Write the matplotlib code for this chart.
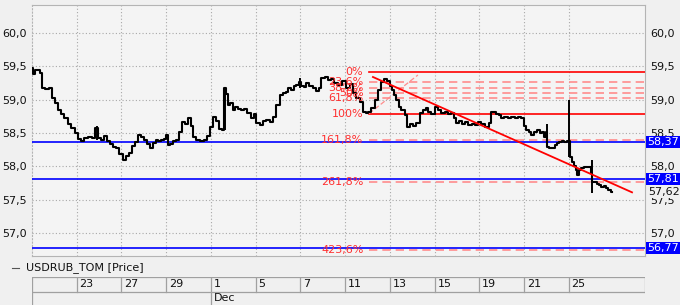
import matplotlib
matplotlib.use("Agg")
import matplotlib.pyplot as plt
import matplotlib.ticker as mticker
import matplotlib.transforms as mtransforms
from matplotlib.lines import Line2D

# --- data: trading-day position (0 = start of Nov 21) and price ---
days = [0.00, 0.08, 0.17, 0.30, 0.39, 0.48, 0.66, 0.88, 0.93, 1.10, 1.24, 1.37, 1.51, 1.69, 1.82,
        2.00, 2.13, 2.27, 2.40, 2.58, 2.76, 2.89, 2.98, 3.16, 3.29, 3.43, 3.56, 3.70, 3.83, 3.97,
        4.15, 4.28, 4.41, 4.55, 4.68, 4.82, 4.95, 5.08, 5.22, 5.35, 5.49, 5.58, 5.71, 5.85, 5.94,
        6.02, 6.11, 6.25, 6.38, 6.52, 6.65, 6.74, 6.92, 7.05, 7.14, 7.28, 7.41, 7.59, 7.77, 7.90,
        8.04, 8.17, 8.30, 8.44, 8.57, 8.62, 8.71, 8.80, 8.93, 9.02, 9.15, 9.29, 9.42, 9.56, 9.69,
        9.87, 9.96, 10.09, 10.27, 10.41, 10.54, 10.72, 10.85, 10.99, 11.16, 11.30, 11.39, 11.52,
        11.66, 11.75, 11.88, 11.97, 12.11, 12.20, 12.33, 12.47, 12.64, 12.78, 12.87, 13.00, 13.18,
        13.31, 13.45, 13.58, 13.76, 13.94, 14.12, 14.30, 14.43, 14.57, 14.75, 14.88, 14.97, 15.10,
        15.24, 15.42, 15.55, 15.68, 15.82, 15.95, 16.04, 16.13, 16.22, 16.35, 16.44, 16.58, 16.76,
        16.80, 16.98, 17.11, 17.25, 17.43, 17.56, 17.65, 17.78, 17.92, 18.10, 18.23, 18.37, 18.54,
        18.68, 18.81, 18.90, 19.04, 19.17, 19.31, 19.44, 19.58, 19.71, 19.89, 20.02, 20.16, 20.34,
        20.47, 20.56, 20.69, 20.83, 20.92, 21.05, 21.18, 21.36, 21.50, 21.68, 21.81, 21.94, 22.03,
        22.17, 22.26, 22.39, 22.53, 22.62, 22.75, 22.84, 22.93, 23.02, 23.06, 23.20, 23.29, 23.42,
        23.51, 23.64, 23.73, 23.87, 23.96, 24.00, 24.09, 24.18, 24.27, 24.36, 24.40, 24.49, 24.63,
        24.76, 24.89, 24.98, 25.03, 25.07, 25.21, 25.30, 25.39, 25.52, 25.61, 25.70, 25.83, 25.92]
price = [59.48, 59.38, 59.45, 59.44, 59.40, 59.17, 59.16, 59.18, 59.02, 58.95, 58.85, 58.78, 58.72,
         58.63, 58.57, 58.50, 58.41, 58.38, 58.42, 58.44, 58.43, 58.58, 58.42, 58.40, 58.45, 58.38,
         58.33, 58.29, 58.28, 58.18, 58.10, 58.15, 58.20, 58.30, 58.36, 58.47, 58.44, 58.40, 58.33,
         58.27, 58.35, 58.40, 58.38, 58.40, 58.41, 58.47, 58.32, 58.33, 58.38, 58.40, 58.52, 58.66,
         58.64, 58.72, 58.60, 58.44, 58.39, 58.38, 58.40, 58.46, 58.59, 58.74, 58.68, 58.56, 58.55,
         59.17, 59.08, 58.92, 58.95, 58.85, 58.89, 58.86, 58.84, 58.86, 58.80, 58.72, 58.78, 58.65,
         58.62, 58.68, 58.70, 58.66, 58.74, 58.92, 59.07, 59.10, 59.12, 59.17, 59.15, 59.20, 59.22,
         59.26, 59.20, 59.19, 59.25, 59.20, 59.17, 59.13, 59.17, 59.32, 59.34, 59.30, 59.31, 59.25,
         59.22, 59.28, 59.18, 59.24, 59.10, 59.02, 58.96, 58.82, 58.80, 58.81, 58.87, 59.00, 59.15,
         59.27, 59.31, 59.28, 59.20, 59.15, 59.07, 59.00, 58.89, 58.84, 58.77, 58.59, 58.64, 58.60,
         58.65, 58.80, 58.84, 58.87, 58.82, 58.78, 58.89, 58.84, 58.80, 58.82, 58.79, 58.80, 58.72,
         58.65, 58.68, 58.64, 58.66, 58.62, 58.64, 58.62, 58.66, 58.64, 58.59, 58.65, 58.82, 58.81,
         58.78, 58.77, 58.72, 58.74, 58.73, 58.74, 58.72, 58.74, 58.73, 58.60, 58.55, 58.52, 58.47,
         58.51, 58.54, 58.50, 58.52, 58.44, 58.52, 58.29, 58.27, 58.28, 58.32, 58.35, 58.36, 58.38,
         58.36, 58.38, 58.38, 58.14, 58.06, 58.00, 57.94, 57.87, 57.95, 57.97, 57.99, 57.99, 57.99,
         57.90, 57.76, 57.77, 57.74, 57.72, 57.69, 57.70, 57.67, 57.64, 57.62]

# single tall bars
spike_day = [2.89, 8.62, 11.97, 23.02, 24.00, 25.03]
spike_lo = [58.40, 58.55, 59.18, 58.30, 58.14, 57.60]
spike_hi = [58.60, 59.17, 59.33, 58.63, 59.00, 58.09]

# horizontal support/resistance levels (blue)
levels = [58.37, 57.81, 56.77]
last_price = 57.62

# fibonacci
fib_start_day = 15.06
fib_high = 59.42
fib_low = 58.79
fib_ratios = [0.0, 0.236, 0.382, 0.5, 0.618, 1.0, 1.618, 2.618, 4.236]
fib_names = ["0%", "23,6%", "38,2%", "50%", "61,8%", "100%", "161,8%", "261,8%", "423,6%"]
fib_diag_day = [15.06, 17.25]
fib_diag_val = [58.79, 59.37]

# trend line
trend_day = [15.24, 26.82]
trend_val = [59.34, 57.61]

# date axis
date_pos = [2, 4, 6, 8, 10, 12, 14, 16, 18, 20, 22, 24]
date_labels = ["23", "27", "29", "1", "5", "7", "11", "13", "15", "19", "21", "25"]
month_pos = 8
month_label = "Dec"

plt.rcParams['font.family'] = ['DejaVu Sans']

BG = "#f0f0f0"
GRID = "#a8a8a8"
RED = "#ff0000"
PINK = "#ff8c8c"
BLUE = "#0000ff"

W, H = 680, 305
fig = plt.figure(figsize=(W / 100, H / 100), dpi=100, facecolor=BG)
ax = fig.add_axes([32 / W, 1 - 256 / H, (645 - 32) / W, (256 - 5) / H])
ax.set_facecolor("#f4f4f4")

xmax = 27.4
ax.set_xlim(0, xmax)
ax.set_ylim(56.655, 60.42)

ax.set_yticks([57.0, 57.5, 58.0, 58.5, 59.0, 59.5, 60.0])
ax.yaxis.set_major_formatter(mticker.FuncFormatter(lambda v, p: f"{v:.1f}".replace(".", ",")))
ax.set_xticks(date_pos)
ax.tick_params(axis="x", length=0, labelbottom=False)
ax.tick_params(axis="y", length=0, labelleft=True, labelright=True, labelsize=8,
               pad=4, labelcolor="#111111")
ax.grid(True, color=GRID, linestyle=(0, (1, 2)), linewidth=0.8)
for s in ax.spines.values():
    s.set_color("#b4b4b4")
    s.set_linewidth(0.8)
ax.spines["left"].set_linestyle((0, (1, 2)))

# blue levels
for lv in levels:
    ax.axhline(lv, color=BLUE, lw=1.2, zorder=3)

# fibonacci levels
span = fib_high - fib_low
for r, name in zip(fib_ratios, fib_names):
    y = fib_high - r * span
    if r in (0.0, 1.0):
        ax.plot([fib_start_day, xmax], [y, y], color=RED, lw=1.2, zorder=4)
    else:
        ax.plot([fib_start_day, xmax], [y, y], color=PINK, lw=1.2,
                linestyle=(0, (5, 3)), zorder=4)
    ax.text(fib_start_day - 0.25, y, name, color="#ff3030", fontsize=8,
            ha="right", va="center", zorder=6)
ax.plot(fib_diag_day, fib_diag_val, color=PINK, lw=0.9, linestyle=(0, (4, 2)), zorder=4)

# price, drawn as a stepped line to look like bars
ax.plot(days, price, color="black", lw=1.5, zorder=5, drawstyle="steps-mid")
ax.vlines(spike_day, spike_lo, spike_hi, color="black", lw=1.4, zorder=5)

# trend
ax.plot(trend_day, trend_val, color=RED, lw=1.3, zorder=6)

# right-side value labels
trans = mtransforms.blended_transform_factory(ax.transAxes, ax.transData)
for lv in levels:
    ax.text(1.003, lv, f"{lv:.2f}".replace(".", ","), transform=trans, color="white",
            fontsize=8, ha="left", va="center", zorder=7, clip_on=False,
            bbox=dict(boxstyle="square,pad=0.1", fc=BLUE, ec="none"))
ax.text(1.005, last_price, f"{last_price:.2f}".replace(".", ","), transform=trans,
        color="#111111", fontsize=8, ha="left", va="center", zorder=7, clip_on=False,
        bbox=dict(boxstyle="square,pad=0.1", fc=BG, ec="none"))

# legend entry
fig.add_artist(Line2D([12 / W, 19 / W], [1 - 268 / H, 1 - 268 / H], color="#555555", lw=0.8))
fig.text(26 / W, 1 - 268 / H, "USDRUB_TOM [Price]", fontsize=8, va="center", ha="left",
         color="#111111")

# date table
tab = fig.add_axes([32 / W, 0, (645 - 32) / W, 28 / H])
tab.set_xlim(0, xmax)
tab.set_ylim(0, 1)
tab.axis("off")
row = 0.475
line_kw = dict(color="#a0a0a0", lw=0.9)
tab.plot([0, xmax], [1, 1], **line_kw)
tab.plot([0, xmax], [row, row], **line_kw)
tab.plot([0, 0], [0, 1], **line_kw)
tab.plot([xmax, xmax], [row, 1], **line_kw)
for p, lab in zip(date_pos, date_labels):
    top = 0 if p == month_pos else row
    tab.plot([p, p], [top, 1], **line_kw)
    tab.text(p + 0.12, (1 + row) / 2, lab, fontsize=8, ha="left", va="center", color="#111111")
tab.text(month_pos + 0.12, row / 2, month_label, fontsize=8, ha="left", va="center",
         color="#111111")

fig.savefig("out.png", dpi=100, facecolor=BG)
